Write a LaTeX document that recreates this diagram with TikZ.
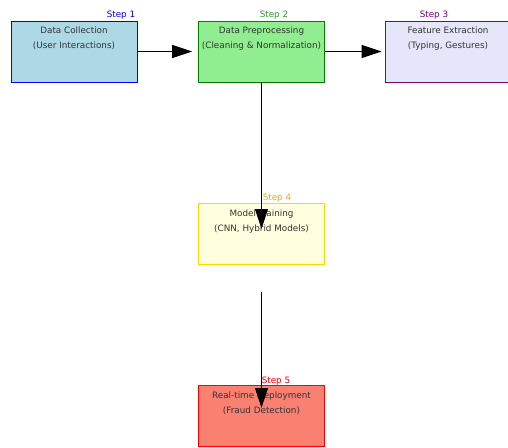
\documentclass[tikz,border=0pt]{standalone}
\usepackage{fontspec}
\setmainfont{DejaVu Sans}
\usetikzlibrary{arrows.meta}
\definecolor{lblue}{HTML}{ADD8E6}
\definecolor{lgreen}{HTML}{90EE90}
\definecolor{lav}{HTML}{E6E6FA}
\definecolor{lyel}{HTML}{FFFFE0}
\definecolor{salm}{HTML}{FA8072}
\definecolor{dgreen}{HTML}{008000}
\definecolor{purp}{HTML}{800080}
\definecolor{gold}{HTML}{FFD700}
\definecolor{orng}{HTML}{FFA500}
\tikzset{
  stepbox/.style={rectangle, minimum width=126pt, minimum height=61pt, inner sep=0pt, line width=0.8pt},
  boxtext/.style={anchor=north, align=center, inner sep=0pt, text=black!80, font=\fontsize{8.8}{15}\selectfont},
  steplabel/.style={inner sep=0pt, font=\fontsize{8.8}{9}\selectfont},
  flow/.style={line width=1.1pt, -{Triangle[length=20pt,width=13pt]}}
}
\begin{document}
\begin{tikzpicture}[x=1pt,y=-1pt]
\useasboundingbox (0,0) rectangle (508,447);
\fill[white] (0,0) rectangle (508,447);
% boxes
\node[stepbox, draw=blue, fill=lblue] (b1) at (74,51.5) {};
\node[stepbox, draw=dgreen, fill=lgreen] (b2) at (261.5,51.5) {};
\node[stepbox, draw=purp, fill=lav] (b3) at (448,51.5) {};
\node[stepbox, draw=gold, fill=lyel] (b4) at (261.5,234) {};
\node[stepbox, draw=red, fill=salm] (b5) at (261.5,416) {};
% texts
\node[boxtext] (t1) at ([yshift=-6.5pt]b1.north) {Data Collection\\(User Interactions)};
\node[boxtext] (t2) at ([yshift=-6.5pt]b2.north) {Data Preprocessing\\(Cleaning \& Normalization)};
\node[boxtext] (t3) at ([yshift=-6.5pt]b3.north) {Feature Extraction\\(Typing, Gestures)};
\node[boxtext] (t4) at ([yshift=-6.5pt]b4.north) {Model Training\\(CNN, Hybrid Models)};
\node[boxtext] (t5) at ([yshift=-6.5pt]b5.north) {Real-time Deployment\\(Fraud Detection)};
% step labels
\node[steplabel, text=blue] (s1) at (121,15) {Step 1};
\node[steplabel, text=dgreen!80] (s2) at (274,15) {Step 2};
\node[steplabel, text=purp] (s3) at (434,15) {Step 3};
\node[steplabel, text=orng] (s4) at (277,198) {Step 4};
\node[steplabel, text=red] (s5) at (276,381) {Step 5};
% connectors
\coordinate (e4) at (261.5,229);
\coordinate (f5) at (261.5,292);
\coordinate (e5) at (261.5,408);
\draw[flow] (b1.east) -- ([xshift=-6pt]b2.west);
\draw[flow] (b2.east) -- ([xshift=-3pt]b3.west);
\draw[flow] (b2.south) -- (e4);
\draw[flow] (f5) -- (e5);
\end{tikzpicture}
\end{document}
